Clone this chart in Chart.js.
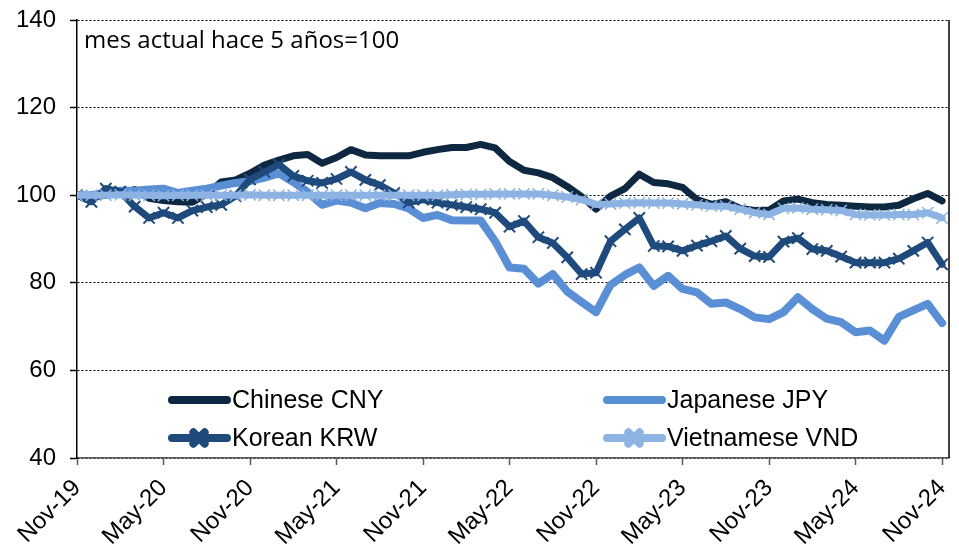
<!DOCTYPE html>
<html>
<head>
<meta charset="utf-8">
<script src="https://cdn.jsdelivr.net/npm/chart.js@4.4.1/dist/chart.umd.min.js"></script>
<style>
  html, body { margin: 0; padding: 0; background: #fff; }
  #wrap { width: 959px; height: 555px; }
</style>
</head>
<body>
<div id="wrap"><canvas id="fxChart"></canvas></div>
<script>
// tipo de cambio frente al USD, mes actual hace 5 años = 100
var months = [
  'Nov-19','Dec-19','Jan-20','Feb-20','Mar-20','Apr-20','May-20','Jun-20','Jul-20','Aug-20','Sep-20','Oct-20',
  'Nov-20','Dec-20','Jan-21','Feb-21','Mar-21','Apr-21','May-21','Jun-21','Jul-21','Aug-21','Sep-21','Oct-21',
  'Nov-21','Dec-21','Jan-22','Feb-22','Mar-22','Apr-22','May-22','Jun-22','Jul-22','Aug-22','Sep-22','Oct-22',
  'Nov-22','Dec-22','Jan-23','Feb-23','Mar-23','Apr-23','May-23','Jun-23','Jul-23','Aug-23','Sep-23','Oct-23',
  'Nov-23','Dec-23','Jan-24','Feb-24','Mar-24','Apr-24','May-24','Jun-24','Jul-24','Aug-24','Sep-24','Oct-24',
  'Nov-24'
];
var tickLabels = ['Nov-19','May-20','Nov-20','May-21','Nov-21','May-22','Nov-22','May-23','Nov-23','May-24','Nov-24'];
var yTicks = [40, 60, 80, 100, 120, 140];

var cny = [100, 99.6, 100, 100.4, 101.3, 99.3, 98.8, 98.5, 98.4, 100.3,
  103, 103.5, 105, 106.9, 108, 109, 109.3, 107.3, 108.6, 110.4,
  109.2, 109, 109, 109, 109.8, 110.4, 110.9, 110.9, 111.6, 110.8,
  107.7, 105.7, 105.1, 104, 102, 99.7, 96.8, 99.8, 101.5, 104.8,
  102.9, 102.6, 101.8, 99, 97.9, 98.5, 97, 96.5, 96.6, 98.7,
  99.1, 98.3, 97.9, 97.7, 97.5, 97.3, 97.3, 97.7, 99.2, 100.4, 98.7];
var jpy = [100, 100, 100.5, 101, 101, 101.3, 101.5, 100.5, 101, 101.5,
  102.2, 102.8, 103.2, 104, 105, 103, 100.7, 97.8, 98.8, 98.3,
  97, 98.2, 98, 97, 94.8, 95.5, 94.3, 94.2, 94.2, 89.5,
  83.5, 83.2, 79.8, 82, 78, 75.6, 73.3, 79.5, 81.8, 83.5,
  79.3, 81.6, 78.6, 77.8, 75.2, 75.5, 74, 72.1, 71.7, 73.3,
  76.7, 74, 71.8, 71, 68.7, 69.1, 66.8, 72.2, 73.7, 75.2, 70.8];
var krw = [100, 98.5, 101.5, 100.8, 97.4, 94.8, 96, 94.8, 96.5, 97.3,
  97.8, 99.8, 103.6, 105.3, 107, 104.4, 103.3, 102.8, 103.7, 105.3,
  103.5, 102.3, 100.5, 98.3, 99, 98.3, 97.8, 97.3, 96.8, 96,
  92.8, 94.1, 90.4, 89.1, 85.8, 82, 82.3, 89.5, 92.2, 94.8,
  88.4, 88.3, 87.3, 88.5, 89.5, 90.7, 87.8, 86.1, 85.9, 89.4,
  90.2, 87.7, 87.3, 86, 84.6, 84.6, 84.6, 85.5, 87.3, 89.2, 84.2];
var vnd = [100, 100, 100, 100.1, 100, 100, 99.9, 100, 100, 100,
  100, 100, 100.1, 100, 100, 100, 100, 100, 100, 100,
  100, 100, 100, 100, 100, 100, 100.1, 100.2, 100.2, 100.3,
  100.3, 100.3, 100.3, 100, 99.6, 99, 97.9, 98, 98.2, 98.3,
  98.2, 98.2, 98, 97.8, 97.5, 97.5, 96.8, 96, 95.6, 97,
  97.1, 96.8, 96.7, 96.5, 95.6, 95.5, 95.5, 95.6, 95.6, 96, 94.8];

var axisFont = "'Liberation Sans', Arial, sans-serif";

function toPoints(arr) {
  return arr.map(function (v, i) { return { x: i, y: v }; });
}

// marco derecho del área de trazado
var framePlugin = {
  id: 'frame',
  beforeDatasetsDraw: function (chart) {
    var ctx = chart.ctx, a = chart.chartArea;
    ctx.save();
    ctx.strokeStyle = '#000';
    ctx.lineWidth = 1.5;
    ctx.beginPath();
    ctx.moveTo(a.right, a.top);
    ctx.lineTo(a.right, a.bottom);
    ctx.stroke();
    ctx.restore();
  }
};

// leyenda y nota dentro del gráfico
var insideLegend = {
  id: 'insideLegend',
  afterDatasetsDraw: function (chart) {
    var ctx = chart.ctx, a = chart.chartArea;
    ctx.save();
    ctx.fillStyle = '#000';
    ctx.font = "24px 'Open Sans', sans-serif";
    ctx.textBaseline = 'middle';
    ctx.fillText('mes actual hace 5 años=100', a.left + 7, a.top + 21);

    var slots = [[172, 400], [607, 400], [172, 438], [607, 438]];
    [0, 1, 2, 3].forEach(function (di, k) {
      var ds = chart.data.datasets[di];
      var x = slots[k][0], y = slots[k][1];
      ctx.strokeStyle = ds.borderColor;
      ctx.lineWidth = 8;
      ctx.lineCap = 'round';
      ctx.beginPath();
      ctx.moveTo(x, y);
      ctx.lineTo(x + 55, y);
      ctx.stroke();
      if (ds.pointStyle && ds.pointRadius) {
        Chart.helpers.drawPoint(ctx, {
          pointStyle: ds.pointStyle, radius: ds.pointRadius, borderWidth: ds.pointBorderWidth
        }, x + 27, y);
      }
      ctx.fillStyle = '#000';
      ctx.font = '25px ' + axisFont;
      ctx.textBaseline = 'middle';
      ctx.fillText(ds.label, x + 60, y + 1);
    });
    ctx.restore();
  }
};

var ctx = document.getElementById('fxChart').getContext('2d');

var fxChart = new Chart(ctx, {
  type: 'line',
  data: {
    labels: months,
    datasets: [{
      label: 'Chinese CNY',
      data: toPoints(cny),
      borderColor: '#0E2841',
      borderWidth: 7,
      pointRadius: 0,
      order: 4
    }, {
      label: 'Japanese JPY',
      data: toPoints(jpy),
      borderColor: '#5A8FD6',
      borderWidth: 8,
      pointRadius: 0,
      order: 3
    }, {
      label: 'Korean KRW',
      data: toPoints(krw),
      borderColor: '#1F4A7C',
      borderWidth: 7,
      pointStyle: 'crossRot',
      pointRadius: 8,
      pointBorderWidth: 2,
      pointBorderColor: '#1F4A7C',
      order: 2
    }, {
      label: 'Vietnamese VND',
      data: toPoints(vnd),
      borderColor: '#8DB3E3',
      borderWidth: 7,
      pointStyle: 'crossRot',
      pointRadius: 8,
      pointBorderWidth: 1.5,
      pointBorderColor: '#8DB3E3',
      order: 1
    }]
  },
  options: {
    responsive: true,
    maintainAspectRatio: false,
    animation: false,
    layout: { padding: { top: 20, right: 2, left: 0, bottom: 0 } },
    elements: {
      line: { tension: 0, borderJoinStyle: 'round', borderCapStyle: 'round', fill: false },
      point: { hoverRadius: 0 }
    },
    plugins: {
      legend: { display: false },
      tooltip: { enabled: false }
    },
    scales: {
      x: {
        type: 'linear',
        min: 0,
        max: 60.48,
        grid: { drawOnChartArea: false, drawTicks: true, tickLength: 7, tickColor: '#595959', tickWidth: 1.5 },
        border: { display: true, color: '#595959', width: 1.5 },
        ticks: {
          stepSize: 6,
          includeBounds: false,
          autoSkip: false,
          minRotation: 45,
          maxRotation: 45,
          padding: 9,
          color: '#000',
          font: { family: axisFont, size: 24 },
          callback: function (v) { return tickLabels[v / 6]; }
        },
        afterFit: function (s) { s.height = 97; s.paddingLeft = 0; s.paddingRight = 0; }
      },
      y: {
        min: yTicks[0],
        max: yTicks[yTicks.length - 1],
        afterBuildTicks: function (s) { s.ticks = yTicks.map(function (v) { return { value: v }; }); },
        grid: { color: '#000', lineWidth: 1, drawTicks: true, tickLength: 7, tickColor: '#000', tickWidth: 1.5, tickBorderDash: [] },
        border: { display: true, color: '#000', width: 1.5, dash: [2, 2] },
        ticks: {
          color: '#000',
          padding: 14,
          font: { family: axisFont, size: 24 }
        },
        afterFit: function (s) { s.width = 77; s.paddingTop = 0; s.paddingBottom = 0; }
      }
    }
  },
  plugins: [framePlugin, insideLegend]
});
</script>
</body>
</html>
